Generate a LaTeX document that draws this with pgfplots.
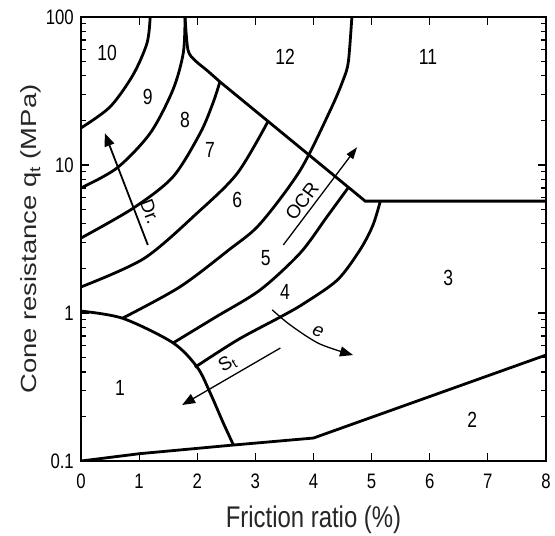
\documentclass[border=0pt]{standalone}
\usepackage{fontspec}
\setmainfont{Liberation Sans}
\newfontfamily\tickfont[FakeStretch=0.8]{Liberation Sans}
\newfontfamily\ylabfont[FakeStretch=1.25]{Liberation Sans}
\usepackage{pgfplots}
\pgfplotsset{compat=1.18}
\usetikzlibrary{arrows.meta}
\begin{document}
\begin{tikzpicture}
\begin{axis}[name=ax, scale only axis, width=465bp, height=444bp,
  xmin=0, xmax=8, ymode=log, ymin=0.1, ymax=100,
  xtick={0,1,2,3,4,5,6,7,8},
  ytick={0.1,1,10,100}, yticklabels={0.1,1,10,100},
  minor ytick={0.2,0.3,0.4,0.5,0.6,0.7,0.8,0.9,2,3,4,5,6,7,8,9,20,30,40,50,60,70,80,90},
  tick align=inside,
  major tick length=8bp, minor tick length=5bp,
  axis line style={line width=2.2bp},
  every tick/.style={line width=1.2bp, black},
  /pgf/number format/assume math mode=true,
  ticklabel style={font=\tickfont\fontsize{21}{22}\selectfont},
  xticklabel style={inner sep=0pt, yshift=-13bp},
  yticklabel style={inner sep=0pt, xshift=-7bp},
  xlabel={Friction ratio (\%)},
  ylabel={Cone resistance q\textsubscript{t} (MPa)},
  xlabel style={font=\tickfont\fontsize{30}{31}\selectfont, text=black!85, at={([yshift=-66bp]axis description cs:0.5,0)}, anchor=base},
  ylabel style={font=\ylabfont\fontsize{22}{23}\selectfont, text=black!85, at={([xshift=-44bp]axis description cs:0,0.5)}, anchor=base},
  label style={inner sep=0bp},
]
% zone 1 boundary
\addplot[black, line width=2.8bp, smooth] coordinates {(0,1.03) (0.72,0.92) (1.58,0.63) (2.0,0.43) (2.22,0.29) (2.45,0.18) (2.62,0.129)};
% zone 2 boundary
\addplot[black, line width=2.8bp] coordinates {(0,0.1) (1,0.112) (2.6,0.128) (4,0.143) (8,0.52)};
% zone 12 boundary (cusp + diagonal) and zone 3 top
\addplot[black, line width=2.8bp, smooth] coordinates {(1.79,100) (1.84,60) (1.96,51) (2.17,43.5) (2.39,36.5)};
\addplot[black, line width=2.8bp] coordinates {(2.39,36.5) (4.89,5.7) (8,5.7)};
% 10/9
\addplot[black, line width=2.8bp, smooth] coordinates {(0,17.8) (0.5,24.7) (0.895,40.6) (1.136,66.7) (1.19,100)};
% 9/8
\addplot[black, line width=2.8bp, smooth] coordinates {(0,7.0) (0.62,9.55) (1.19,16.4) (1.58,32.1) (1.76,57.2) (1.79,100)};
% 8/7
\addplot[black, line width=2.8bp, smooth] coordinates {(0,3.21) (0.895,5.1) (1.58,8.3) (2.05,16.4) (2.27,26.2) (2.39,36.5)};
% 7/6
\addplot[black, line width=2.8bp, smooth] coordinates {(0,1.5) (1.08,2.33) (2.0,4.74) (2.69,8.8) (3.22,19.8)};
% 6/5 and 11/12
\addplot[black, line width=2.8bp, smooth] coordinates {(0.72,0.925) (1.70,1.5) (2.56,2.7) (3.08,4.0) (3.77,9.2) (4.29,23.5) (4.51,37.5) (4.6,50) (4.66,100)};
% 5/4
\addplot[black, line width=2.8bp, smooth] coordinates {(1.58,0.626) (2.3,0.93) (3.08,1.43) (3.77,2.54) (4.23,4.46) (4.6,7.05)};
% 4/3
\addplot[black, line width=2.8bp, smooth] coordinates {(1.96,0.43) (2.7,0.66) (3.43,0.94) (3.82,1.15) (4.41,1.67) (4.80,2.67) (5.02,3.9) (5.15,5.7)};
% arrows
\addplot[black, line width=1.8bp, -{Triangle[length=13bp,width=10bp]}] coordinates {(1.15,2.88) (0.41,16.4)};
\addplot[black, line width=1.3bp, -{Triangle[length=12bp,width=8bp]}] coordinates {(3.48,2.88) (4.75,13.2)};
\addplot[black, line width=1.3bp, -{Triangle[length=13bp,width=10bp]}] coordinates {(3.43,0.58) (1.74,0.239)};
\addplot[black, line width=1.3bp, smooth, -{Triangle[length=13bp,width=10bp]}] coordinates {(3.29,1.05) (3.6,0.83) (4.1,0.62) (4.68,0.52)};
% arrow labels
\node[rotate=-69, anchor=south, inner sep=3bp, font=\fontsize{19}{20}\selectfont] at (axis cs:1.03,4.6) {Dr.};
\node[rotate=53, anchor=south, inner sep=1bp, font=\fontsize{19}{20}\selectfont] at (axis cs:3.91,5.3) {OCR};
\node[rotate=30, anchor=south, inner sep=1bp, font=\fontsize{19}{20}\selectfont] at (axis cs:2.6,0.4) {S\textsubscript{t}};
\node[rotate=-20, font=\fontsize{19}{20}\selectfont\itshape] at (axis cs:4.08,0.75) {e};
% zone labels
\begin{scope}[every node/.style={font=\tickfont\fontsize{22}{23}\selectfont}]
\node at (axis cs:0.67,0.311) {1};
\node at (axis cs:6.73,0.189) {2};
\node at (axis cs:6.32,1.72) {3};
\node at (axis cs:3.51,1.39) {4};
\node at (axis cs:3.18,2.36) {5};
\node at (axis cs:2.69,5.8) {6};
\node at (axis cs:2.22,12.6) {7};
\node at (axis cs:1.79,20.1) {8};
\node at (axis cs:1.15,28.8) {9};
\node at (axis cs:0.45,57.2) {10};
\node at (axis cs:5.97,53.7) {11};
\node at (axis cs:3.51,53.7) {12};
\end{scope}
\end{axis}
\pgfresetboundingbox
\path[use as bounding box] ([xshift=-81bp,yshift=-74bp]ax.south west) rectangle ([xshift=9bp,yshift=17bp]ax.north east);
\end{tikzpicture}
\end{document}
